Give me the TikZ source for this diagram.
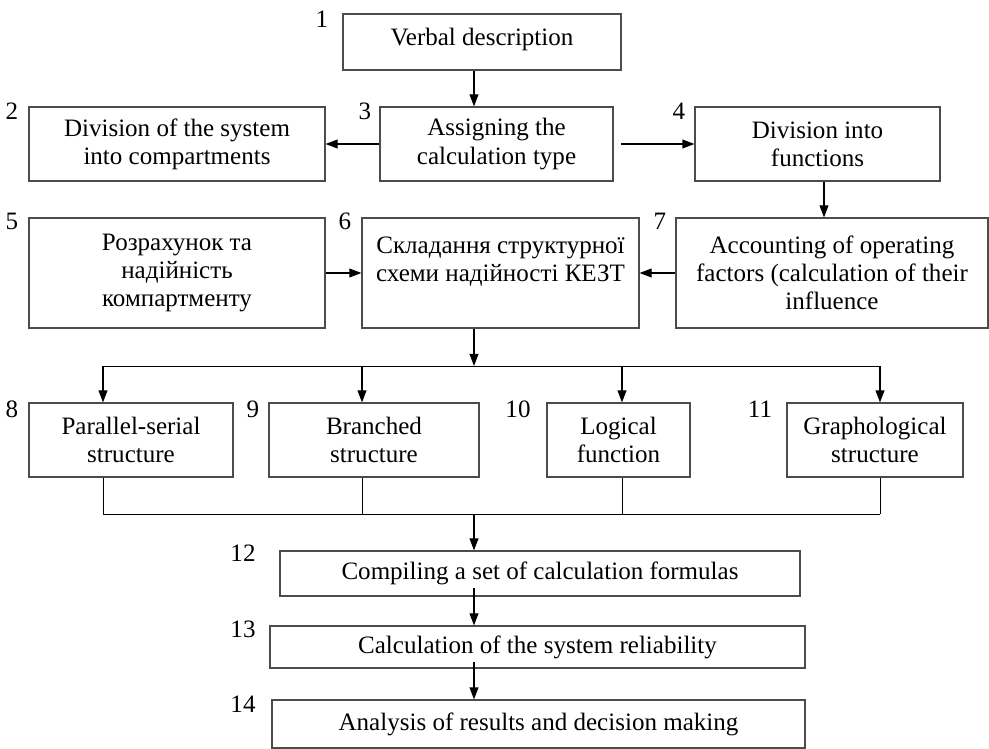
\documentclass[tikz,border=0pt]{standalone}
\usepackage{fontspec}
\setmainfont{Liberation Serif}
\usetikzlibrary{arrows.meta,positioning,calc}
\tikzset{
    % --- Process block (size given in picture units) ---
    block/.style = {
        rectangle, draw=black!70, line width=0.8pt,
        inner sep=0pt, align=center,
        font=\fontsize{17.8}{20}\selectfont
    },
    boxsize/.style 2 args = {
        minimum width=#1*0.025cm, minimum height=#2*0.025cm
    },
    % --- Step number beside a block ---
    num/.style = {
        font=\fontsize{17.8}{20}\selectfont, inner sep=0pt
    },
    % --- Flow arrow ---
    flow/.style = {
        -{Triangle[length=3mm,width=2.2mm]}, line width=0.8pt
    },
    % --- Plain bus wire ---
    wire/.style = {
        line width=0.7pt
    }
}

\begin{document}
\begin{tikzpicture}[x=0.025cm, y=-0.025cm]
\useasboundingbox (0,0) rectangle (989,749);

% ---------------------------------------------------------
% Connector columns
% ---------------------------------------------------------
\coordinate (Main)   at (474,0);
\coordinate (FunCol) at (824,0);
\coordinate (ColA)   at (103,0);
\coordinate (ColB)   at (362,0);
\coordinate (ColC)   at (622,0);
\coordinate (ColD)   at (880,0);

% ---------------------------------------------------------
% Upper part
% ---------------------------------------------------------
\node[block, boxsize={278}{56}] (Verbal) at (482,42) {Verbal description\\[-13pt]\mbox{}};
\node[num] (n1) at (322,19) {1};

\node[block, boxsize={296}{74}] (DivSys) at (177,144) {Division of the system\\into compartments};
\node[num] (n2) at (12,111) {2};

\node[block, boxsize={233}{74}] (Assign) at (496.5,144) {Assigning the\\calculation type};
\node[num] (n3) at (365,111) {3};

\node[block, boxsize={245}{74}] (DivFun) at (817.5,144) {Division into\\functions};
\node[num] (n4) at (679,111) {4};

\node[block, boxsize={296}{110}] (Compart) at (177,273) {Розрахунок та\\надійність\\компартменту};
\node[num] (n5) at (12,221) {5};

\node[block, boxsize={277}{110}] (Scheme) at (500.5,273) {Складання структурної\\схеми надійності КЕЗТ\\\mbox{}};
\node[num] (n6) at (345,221) {6};

\node[block, boxsize={312}{110}] (Factors) at (832,273) {Accounting of operating\\factors (calculation of their\\influence};
\node[num] (n7) at (660,221) {7};

\draw[flow] (Verbal.south -| Main) -- (Assign.north -| Main);
\draw[flow] (Assign.west) -- (DivSys.east);
\draw[flow, shorten <=0.18cm] (Assign.east) -- (DivFun.west);
\draw[flow] (DivFun.south -| FunCol) -- (Factors.north -| FunCol);
\draw[flow] (Compart.east) -- (Scheme.west);
\draw[flow] (Factors.west) -- (Scheme.east);

% ---------------------------------------------------------
% Structure types
% ---------------------------------------------------------
\node[block, boxsize={204}{74}] (Par)    at (131,440)   {Parallel-serial\\structure};
\node[block, boxsize={210}{74}] (Branch) at (374,440)   {Branched\\structure};
\node[block, boxsize={143}{74}] (Logic)  at (618.5,440) {Logical\\function};
\node[block, boxsize={176}{74}] (Graph)  at (875,440)   {Graphological\\structure};
\node[num] (n8)  at (12,409)  {8};
\node[num] (n9)  at (253,409) {9};
\node[num] (n10) at (518,409) {10};
\node[num] (n11) at (760,409) {11};

\coordinate (BusTop) at (474,366);
\draw[flow] (Scheme.south -| Main) -- (BusTop);
\draw[wire] (ColA |- BusTop) -- (ColD |- BusTop);
\foreach \c/\b in {ColA/Par, ColB/Branch, ColC/Logic, ColD/Graph}
    \draw[flow] (\c |- BusTop) -- (\b.north -| \c);

\coordinate (BusBot) at (474,514);
\foreach \c/\b in {ColA/Par, ColB/Branch, ColC/Logic, ColD/Graph}
    \draw[wire] (\b.south -| \c) -- (\c |- BusBot);
\draw[wire] (ColA |- BusBot) -- (ColD |- BusBot);

% ---------------------------------------------------------
% Lower part
% ---------------------------------------------------------
\node[block, boxsize={520}{45}] (Formulas) at (540,573.5) {Compiling a set of calculation formulas};
\node[num] (n12) at (243,553) {12};
\node[block, boxsize={535}{42}] (Reliab) at (537.5,647) {Calculation of the system reliability};
\node[num] (n13) at (243,629) {13};
\node[block, boxsize={533}{48}] (Analysis) at (538.5,724) {Analysis of results and decision making};
\node[num] (n14) at (243,704) {14};

\draw[flow] (BusBot) -- (Formulas.north -| Main);
\draw[flow, shorten <=-0.22cm] (Formulas.south -| Main) -- (Reliab.north -| Main);
\draw[flow, shorten <=-0.17cm] (Reliab.south -| Main) -- (Analysis.north -| Main);

\end{tikzpicture}
\end{document}
